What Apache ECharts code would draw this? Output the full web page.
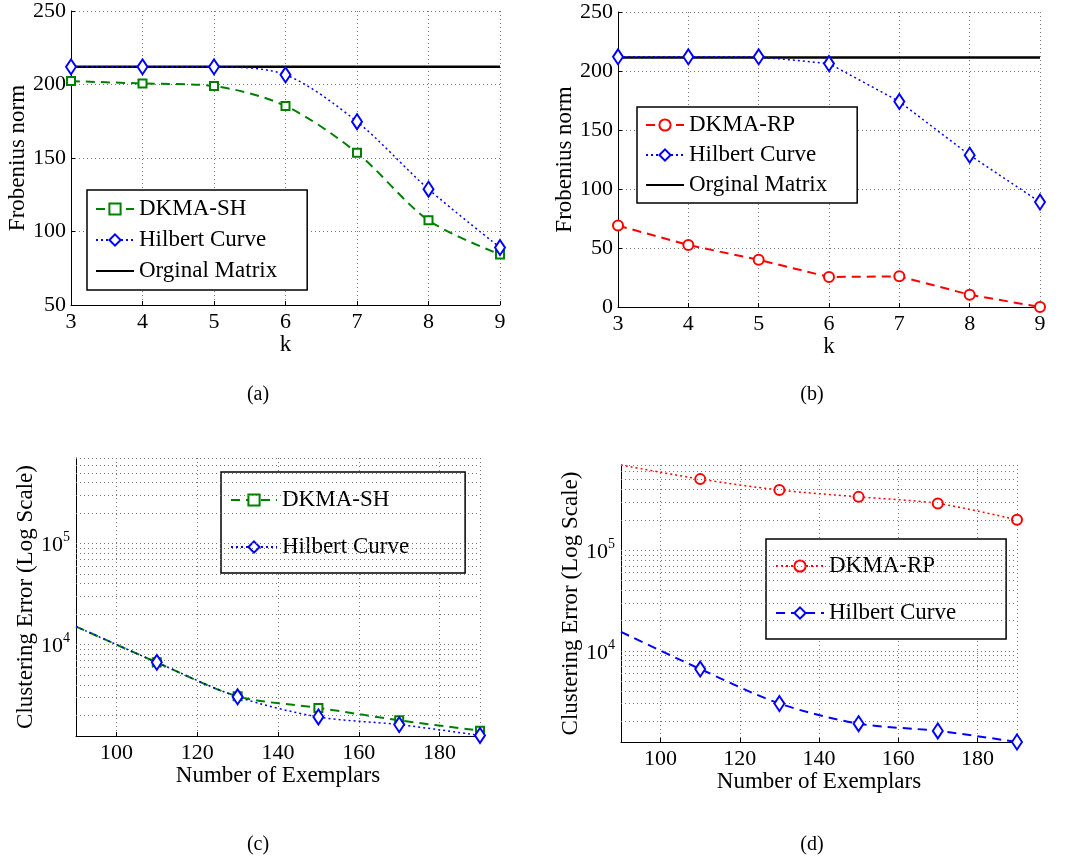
<!DOCTYPE html>
<html>
<head>
<meta charset="utf-8">
<script src="https://cdn.jsdelivr.net/npm/echarts@6/dist/echarts.min.js"></script>
<style>html,body{margin:0;padding:0;background:#fff}#c{width:1069px;height:859px}</style>
</head>
<body>
<div id="c"></div>
<script>
// ---------- data ----------
const kValues = [3, 4, 5, 6, 7, 8, 9];
const dkmaShA = [202.3, 200.7, 198.9, 185.4, 153.5, 107.6, 84.4];
const hilbertA = [212, 212, 212, 206.6, 174.7, 128.8, 89.1];
const originalA = [212, 212, 212, 212, 212, 212, 212];

const dkmaRpB = [69, 52.5, 40, 25.4, 26, 10.4, 0];
const hilbertB = [212, 212, 212, 206.3, 174.1, 128.7, 88.9];
const originalB = [211.5, 211.5, 211.5, 211.5, 211.5, 211.5, 211.5];

const exemplars = [90, 110, 130, 150, 170, 190];
const dkmaShC = [15100, 6680, 3090, 2370, 1790, 1410];
const hilbertC = [15100, 6680, 3050, 1930, 1620, 1265];
const dkmaRpD = [700000, 507000, 395000, 338000, 291000, 200000];
const hilbertD = [15450, 6620, 3010, 1900, 1610, 1250];

const captions = ['(a)', '(b)', '(c)', '(d)'];
const logMin = 1250, logMax = 700000;
const decades = [1000, 10000, 100000];
const mantissas = [1, 2, 3, 4, 5, 6, 7, 8, 9];

// ---------- helpers ----------
const FONT = 'Liberation Serif';
const GREEN = '#008000', BLUE = '#0000ff', RED = '#ff0000';
const DASH = [9, 6], DOT = [2, 3];
const gridDot = { type: [1, 3], color: '#777', width: 1 };
const NAME_SIZE = 23;

const logGridVals = [];
decades.forEach(d => mantissas.forEach(m => {
  const v = m * d;
  if (v > logMin && v <= logMax) logGridVals.push(v);
}));

function pairs(xs, ys) { return xs.map((x, i) => [x, ys[i]]); }
function pairsNoFirstMarker(xs, ys) {
  return xs.map((x, i) => i === 0 ? { value: [x, ys[i]], symbol: 'none' } : [x, ys[i]]);
}
const stripTag = n => n.replace(/ \[.\]$/, '');

function xAxisK(gi) {
  return {
    type: 'value', gridIndex: gi, min: 3, max: 9, interval: 1,
    name: 'k', nameLocation: 'middle', nameGap: 26,
    nameTextStyle: { fontFamily: FONT, fontSize: NAME_SIZE, color: '#000' },
    axisLine: { lineStyle: { color: '#000', width: 1 } },
    axisTick: { inside: true, length: 4, lineStyle: { color: '#000' } },
    axisLabel: { fontFamily: FONT, fontSize: 22, color: '#000', margin: 6 },
    splitLine: { show: true, lineStyle: gridDot }
  };
}
function yAxisLin(gi, min, nameGap) {
  return {
    type: 'value', gridIndex: gi, min: min, max: 250, interval: 50,
    name: 'Frobenius norm', nameLocation: 'middle', nameGap: nameGap,
    nameTextStyle: { fontFamily: FONT, fontSize: NAME_SIZE, color: '#000' },
    axisLine: { show: true, lineStyle: { color: '#000', width: 1 } },
    axisTick: { show: true, inside: true, length: 4, lineStyle: { color: '#000' } },
    axisLabel: { fontFamily: FONT, fontSize: 22, color: '#000', margin: 5 },
    splitLine: { show: true, lineStyle: gridDot }
  };
}
function xAxisEx(gi) {
  return {
    type: 'value', gridIndex: gi, min: 90, max: 190,
    name: 'Number of Exemplars', nameLocation: 'middle', nameGap: 26,
    nameTextStyle: { fontFamily: FONT, fontSize: NAME_SIZE, color: '#000' },
    axisLine: { lineStyle: { color: '#000', width: 1 } },
    axisTick: { inside: true, length: 4, lineStyle: { color: '#000' } },
    axisLabel: {
      fontFamily: FONT, fontSize: 22, color: '#000', margin: 6,
      formatter: v => (v === 90 || v === 190) ? '' : String(v)
    },
    splitLine: { show: true, lineStyle: gridDot }
  };
}
function yAxisLog(gi, nameGap) {
  return {
    type: 'log', logBase: 10, gridIndex: gi, min: logMin, max: logMax,
    name: 'Clustering Error (Log Scale)', nameLocation: 'middle', nameGap: nameGap,
    nameTextStyle: { fontFamily: FONT, fontSize: NAME_SIZE, color: '#000' },
    axisLine: { show: true, lineStyle: { color: '#000', width: 1 } },
    axisTick: { show: false },
    splitLine: { show: false },
    axisLabel: {
      margin: 6,
      formatter: v => {
        const e = Math.log10(v);
        if (Math.abs(e - Math.round(e)) > 1e-6) return '';
        return '{b|10}{s|' + Math.round(e) + '}';
      },
      rich: {
        b: { fontFamily: FONT, fontSize: 22, color: '#000', verticalAlign: 'bottom' },
        s: { fontFamily: FONT, fontSize: 14, color: '#000', verticalAlign: 'bottom', padding: [0, 0, 12, 0] }
      }
    }
  };
}
function logGridSeries(xi, yi) {
  return {
    type: 'line', xAxisIndex: xi, yAxisIndex: yi, data: [], silent: true, z: 1,
    markLine: {
      silent: true, symbol: 'none', label: { show: false },
      lineStyle: gridDot, animation: false,
      data: logGridVals.map(v => ({ yAxis: v }))
    }
  };
}
function legendBox(names, left, top, padding, itemGap, itemWidth) {
  return {
    show: true, orient: 'vertical', left: left, top: top, data: names,
    formatter: stripTag, padding: padding, itemGap: itemGap,
    itemWidth: itemWidth, itemHeight: 14,
    borderColor: '#000', borderWidth: 1.5, backgroundColor: '#fff', borderRadius: 0,
    selectedMode: false,
    textStyle: { fontFamily: FONT, fontSize: NAME_SIZE, color: '#000', lineHeight: 24 }
  };
}

const symDiamond = { symbol: 'emptyDiamond', symbolSize: [10, 15] };
const noMarkerItem = { color: 'rgba(0,0,0,0)', borderColor: 'rgba(0,0,0,0)' };

const option = {
  animation: false,
  backgroundColor: '#fff',
  grid: [
    { left: 71, top: 10, width: 429, height: 295 },
    { left: 618, top: 12, width: 422, height: 295 },
    { left: 76, top: 458, width: 404, height: 278 },
    { left: 621, top: 465, width: 396, height: 277 }
  ],
  xAxis: [xAxisK(0), xAxisK(1), xAxisEx(2), xAxisEx(3)],
  yAxis: [yAxisLin(0, 50, 42), yAxisLin(1, 0, 40), yAxisLog(2, 39), yAxisLog(3, 37)],
  legend: [
    legendBox(['DKMA-SH [a]', 'Hilbert Curve [a]', 'Orginal Matrix [a]'], 87, 190, [7, 30, 7, 8], 7, 38),
    legendBox(['DKMA-RP [b]', 'Hilbert Curve [b]', 'Orginal Matrix [b]'], 637, 107, [6, 30, 6, 8], 6, 38),
    legendBox(['DKMA-SH [c]', 'Hilbert Curve [c]'], 221, 472, [16, 56, 14, 9], 23, 46),
    legendBox(['DKMA-RP [d]', 'Hilbert Curve [d]'], 766, 539, [15, 50, 14, 9], 23, 48)
  ],
  graphic: captions.map((t, i) => ({
    type: 'text',
    x: i % 2 === 0 ? 258 : 812,
    y: i < 2 ? 395 : 845,
    style: { text: t, fontFamily: FONT, fontSize: 20, fill: '#000', align: 'center', verticalAlign: 'middle', textAlign: 'center', textVerticalAlign: 'middle' }
  })),
  series: [
    // (a)
    { name: 'Orginal Matrix [a]', type: 'line', xAxisIndex: 0, yAxisIndex: 0, data: pairs(kValues, originalA),
      symbol: 'none', lineStyle: { color: '#000', width: 2.5 }, itemStyle: noMarkerItem, z: 3 },
    { name: 'DKMA-SH [a]', type: 'line', xAxisIndex: 0, yAxisIndex: 0, data: pairs(kValues, dkmaShA), smooth: 0.3,
      symbol: 'emptyRect', symbolSize: 8, lineStyle: { color: GREEN, width: 2, type: DASH },
      itemStyle: { color: GREEN, borderWidth: 1.8 }, z: 4 },
    { name: 'Hilbert Curve [a]', type: 'line', xAxisIndex: 0, yAxisIndex: 0, data: pairs(kValues, hilbertA), smooth: 0.3,
      ...symDiamond, lineStyle: { color: BLUE, width: 1.5, type: DOT },
      itemStyle: { color: BLUE, borderWidth: 2 }, z: 5 },
    // (b)
    { name: 'Orginal Matrix [b]', type: 'line', xAxisIndex: 1, yAxisIndex: 1, data: pairs(kValues, originalB),
      symbol: 'none', lineStyle: { color: '#000', width: 2.5 }, itemStyle: noMarkerItem, z: 3 },
    { name: 'DKMA-RP [b]', type: 'line', xAxisIndex: 1, yAxisIndex: 1, data: pairs(kValues, dkmaRpB),
      symbol: 'emptyCircle', symbolSize: 10, lineStyle: { color: RED, width: 2, type: DASH },
      itemStyle: { color: RED, borderWidth: 2 }, z: 4 },
    { name: 'Hilbert Curve [b]', type: 'line', xAxisIndex: 1, yAxisIndex: 1, data: pairs(kValues, hilbertB),
      ...symDiamond, lineStyle: { color: BLUE, width: 1.5, type: DOT },
      itemStyle: { color: BLUE, borderWidth: 2 }, z: 5 },
    // (c)
    logGridSeries(2, 2),
    { name: 'DKMA-SH [c]', type: 'line', xAxisIndex: 2, yAxisIndex: 2, data: pairsNoFirstMarker(exemplars, dkmaShC), smooth: 0.3,
      symbol: 'emptyRect', symbolSize: 8, lineStyle: { color: GREEN, width: 2, type: DASH },
      itemStyle: { color: GREEN, borderWidth: 1.8 }, z: 4 },
    { name: 'Hilbert Curve [c]', type: 'line', xAxisIndex: 2, yAxisIndex: 2, data: pairsNoFirstMarker(exemplars, hilbertC), smooth: 0.3,
      ...symDiamond, lineStyle: { color: BLUE, width: 1.5, type: DOT },
      itemStyle: { color: BLUE, borderWidth: 2 }, z: 5 },
    // (d)
    logGridSeries(3, 3),
    { name: 'DKMA-RP [d]', type: 'line', xAxisIndex: 3, yAxisIndex: 3, data: pairsNoFirstMarker(exemplars, dkmaRpD), smooth: 0.3,
      symbol: 'emptyCircle', symbolSize: 10, lineStyle: { color: RED, width: 1.5, type: DOT },
      itemStyle: { color: RED, borderWidth: 2 }, z: 4 },
    { name: 'Hilbert Curve [d]', type: 'line', xAxisIndex: 3, yAxisIndex: 3, data: pairsNoFirstMarker(exemplars, hilbertD), smooth: 0.3,
      ...symDiamond, lineStyle: { color: BLUE, width: 2, type: DASH },
      itemStyle: { color: BLUE, borderWidth: 2 }, z: 5 }
  ]
};

const chart = echarts.init(document.getElementById('c'), null, { renderer: 'canvas' });
chart.setOption(option);
</script>
</body>
</html>
